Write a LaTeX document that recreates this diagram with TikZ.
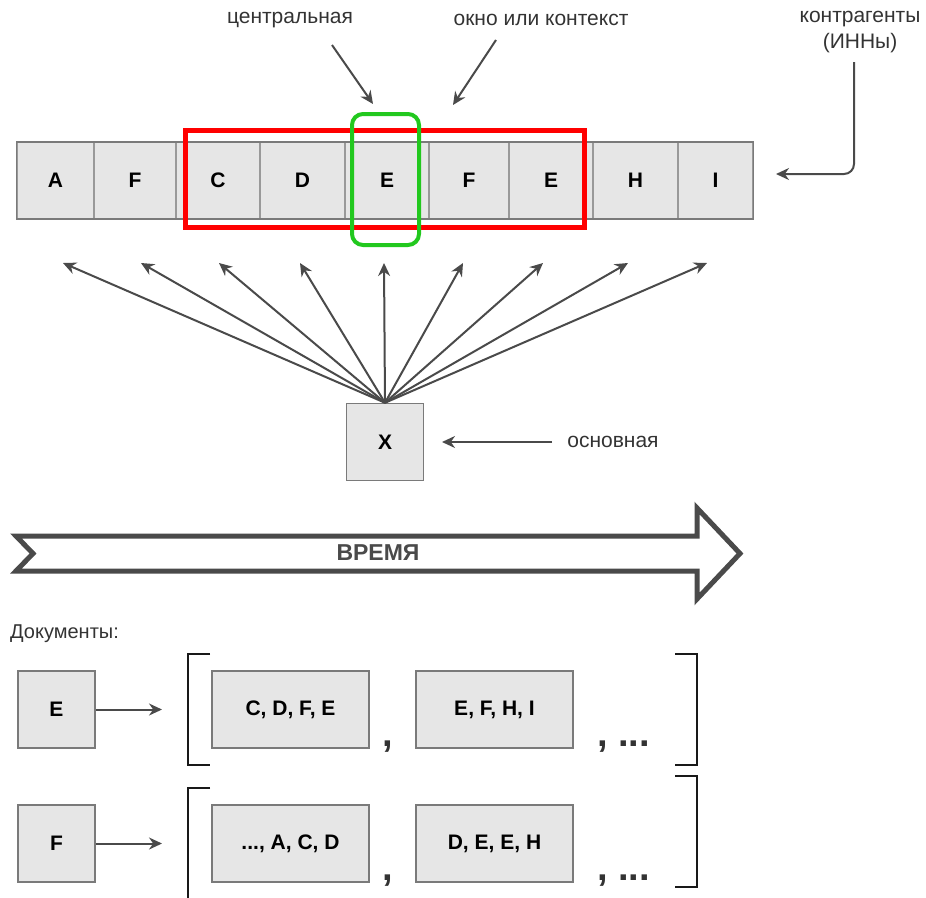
\documentclass[tikz,border=0pt]{standalone}
\usepackage{fontspec}
\setmainfont{Liberation Sans}
\usetikzlibrary{arrows.meta}
\definecolor{cellfill}{HTML}{E6E6E6}
\definecolor{cellline}{HTML}{999999}
\definecolor{stripline}{HTML}{7A7A7A}
\definecolor{arr}{HTML}{4A4A4A}
\definecolor{txt}{HTML}{333333}
\definecolor{redbox}{HTML}{FF0000}
\definecolor{greenbox}{HTML}{22C81E}
\begin{document}
\begin{tikzpicture}[x=1pt,y=-1pt,
  cell/.style={draw=cellline, fill=cellfill, line width=1.2pt, inner sep=0pt,
    font=\fontsize{21}{24}\selectfont\bfseries, text=black, minimum height=76},
  boxc/.style={draw=stripline, fill=cellfill, line width=1.5pt, inner sep=0pt,
    font=\fontsize{21}{24}\selectfont\bfseries, text=black},
  lbl/.style={inner sep=0pt, font=\fontsize{21}{26}\selectfont, text=txt},
  arrowline/.style={draw=arr, line width=2pt, -{Stealth[length=13pt,width=12pt]}},
  bracketline/.style={draw=black!90, line width=2.5pt},
  punct/.style={inner sep=0pt, font=\fontsize{38}{40}\selectfont\bfseries, text=txt}
]
\useasboundingbox (0,0) rectangle (926,897);

% strip of cells
\node[cell, minimum width=77] (c1) at (55.5,180.5) {A};
\node[cell, minimum width=82] (c2) at (135,180.5) {F};
\node[cell, minimum width=84] (c3) at (218,180.5) {C};
\node[cell, minimum width=85] (c4) at (302.5,180.5) {D};
\node[cell, minimum width=84] (c5) at (387,180.5) {E};
\node[cell, minimum width=80] (c6) at (469,180.5) {F};
\node[cell, minimum width=84] (c7) at (551,180.5) {E};
\node[cell, minimum width=85] (c8) at (635.5,180.5) {H};
\node[cell, minimum width=75] (c9) at (715.5,180.5) {I};
\draw[stripline, line width=1.5pt] (c1.north west) rectangle (c9.south east);

% window and centre
\node[draw=redbox, line width=5pt, minimum width=399, minimum height=97, inner sep=0pt] (win) at (385,179) {};
\node[draw=greenbox, line width=4pt, rounded corners=11pt, minimum width=67, minimum height=131, inner sep=0pt] (cen) at (385.5,179.5) {};

% labels at top
\node[lbl] (lc) at (290,20) {центральная};
\node[lbl] (lw) at (541,20) {окно или контекст};
\node[lbl, align=center] (lk) at (860,32) {контрагенты\\(ИННы)};

\coordinate (lcs) at (332,45);
\coordinate (lct) at (373,104);
\coordinate (lws) at (496,40);
\coordinate (lwt) at (453,105);
\coordinate (lks) at (854,62);
\coordinate (lkt) at (776,174);
\draw[arrowline] (lcs) -- (lct);
\draw[arrowline] (lws) -- (lwt);
\draw[arrowline, rounded corners=10pt] (lks) -- (lks |- lkt) -- (lkt);

% main node X
\node[boxc, minimum width=77, minimum height=77] (X) at (385,442) {X};
\node[lbl] (lo) at (613,442) {основная};
\coordinate (los) at (552,442);
\coordinate (lot) at (442,442);
\draw[arrowline] (los) -- (lot);

% fan of arrows
\foreach \i/\xx in {1/63,2/141,3/219,4/300,5/384,6/463,7/543,8/628,9/707}{
  \coordinate (t\i) at (\xx,263);
  \draw[arrowline] (X.north) -- (t\i);
}

% time arrow
\draw[arr, line width=5pt, line join=miter, fill=white]
  (16,536) -- (697,536) -- (697,508) -- (740,553.5) -- (697,599) -- (697,571)
  -- (16,571) -- (33,553.5) -- cycle;
\node[inner sep=0pt, font=\fontsize{23}{26}\selectfont\bfseries, text=arr] (time) at (378,553) {ВРЕМЯ};

% documents
\node[lbl, anchor=west, font=\fontsize{20}{24}\selectfont] (docs) at (10,634) {Документы:};

\node[boxc, minimum width=77, minimum height=77] (e) at (56.5,709.5) {E};
\node[boxc, minimum width=77, minimum height=77] (f) at (56.5,843.5) {F};
\coordinate (et) at (162,709.5);
\coordinate (ft) at (162,843.5);
\draw[arrowline] (e.east) -- (et);
\draw[arrowline] (f.east) -- (ft);

\node[boxc, minimum width=157, minimum height=77] (e1) at (290.5,709.5) {C, D, F, E};
\node[boxc, minimum width=157, minimum height=77] (e2) at (494.5,709.5) {E, F, H, I};
\node[boxc, minimum width=157, minimum height=77] (f1) at (290.5,843.5) {..., A, C, D};
\node[boxc, minimum width=157, minimum height=77] (f2) at (494.5,843.5) {D, E, E, H};

\node[punct, anchor=base] (ec) at (388,746) {,};
\node[punct, anchor=base west] (ed) at (597,746) {, ...};
\node[punct, anchor=base] (fc) at (388,880) {,};
\node[punct, anchor=base west] (fd) at (597,880) {, ...};

\draw[bracketline] (210,654) -- (188,654) -- (188,765) -- (210,765);
\draw[bracketline] (675,654) -- (697,654) -- (697,765) -- (675,765);
\draw[bracketline] (210,788) -- (188,788) -- (188,900);
\draw[bracketline] (675,776) -- (697,776) -- (697,887) -- (675,887);
\end{tikzpicture}
\end{document}
